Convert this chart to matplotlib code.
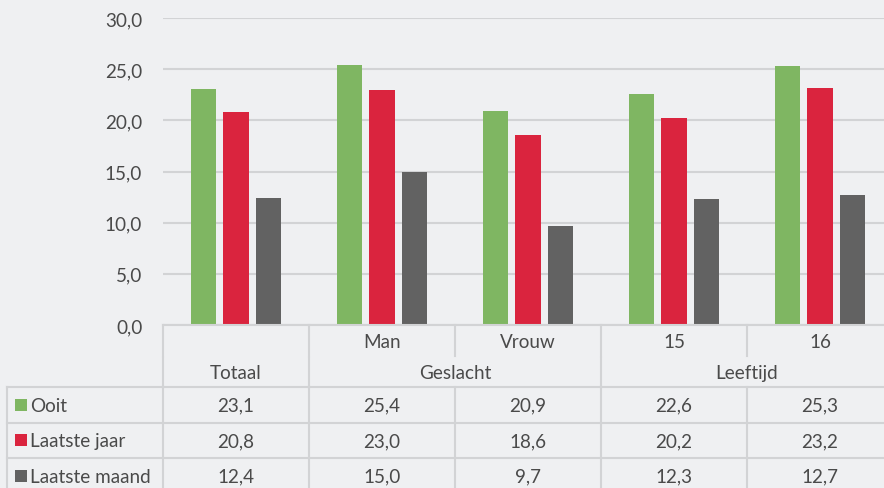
import matplotlib
matplotlib.use("Agg")
import matplotlib.pyplot as plt
import numpy as np

# ---- data ----
categories = ["Totaal", "Man", "Vrouw", "15", "16"]
sub_labels = ["", "Man", "Vrouw", "15", "16"]
group_labels = ["Totaal", "Geslacht", "Leeftijd"]
group_spans = [(0, 1), (1, 3), (3, 5)]
series_names = ["Ooit", "Laatste jaar", "Laatste maand"]
ooit = [23.1, 25.4, 20.9, 22.6, 25.3]
laatste_jaar = [20.8, 23.0, 18.6, 20.2, 23.2]
laatste_maand = [12.4, 15.0, 9.7, 12.3, 12.7]
series_values = [ooit, laatste_jaar, laatste_maand]
colors = ["#7fb662", "#da243e", "#626262"]
yticks = [0, 5, 10, 15, 20, 25, 30]

plt.rcParams['font.family'] = ['Lato', 'DejaVu Sans']
W, H = 884, 489
BG = "#eff0f2"
TXT = "#4a4a4a"
LINE = "#d2d3d5"
FS = 13.6

fig = plt.figure(figsize=(W / 100, H / 100), dpi=100, facecolor=BG)

# plot area in pixel coordinates
x0, x1 = 163, 893
y_top, y_bot = 19, 326
ax = fig.add_axes([x0 / W, (H - y_bot) / H, (x1 - x0) / W, (y_bot - y_top) / H])
ax.set_facecolor("none")
ax.set_xlim(-0.5, len(categories) - 0.5)
ax.set_ylim(0, 30)
for s in ax.spines.values():
    s.set_visible(False)
ax.set_yticks(yticks)
ax.set_yticklabels([f"{v:.1f}".replace(".", ",") for v in yticks], fontsize=FS, color=TXT)
ax.tick_params(axis="y", length=0, pad=15)
ax.set_xticks([])
ax.grid(axis="y", color=LINE, lw=1.5, zorder=0)
ax.set_axisbelow(True)

x = np.arange(len(categories))
width = 0.172
step = 0.222
for i, (vals, c) in enumerate(zip(series_values, colors)):
    ax.bar(x + (i - 1) * step, vals, width=width, color=c, zorder=3)

# ---- data table overlay ----
tab = fig.add_axes([0, 0, 1, 1])
tab.set_xlim(0, W)
tab.set_ylim(H, 0)
tab.axis("off")
tab.patch.set_alpha(0)

colw = (x1 - x0) / len(categories)
col_edges = [x0 + k * colw for k in range(len(categories) + 1)]
lw = 1.5
left_edge = 7
r0, r1, r2 = 326, 357, 388
row_h = 35.5
rows_y = [r2 + k * row_h for k in range(len(series_names) + 1)]

# horizontal lines
tab.plot([x0, W + 20], [r0, r0], color=LINE, lw=lw)
for yy in rows_y:
    tab.plot([left_edge, W + 20], [yy, yy], color=LINE, lw=lw)
# vertical lines
tab.plot([left_edge, left_edge], [r2, H + 5], color=LINE, lw=lw)
group_edges = set(col_edges[a] for a, b in group_spans)
for k, xe in enumerate(col_edges[:-1]):
    tab.plot([xe, xe], [r0, r1 - 0.5], color=LINE, lw=lw)
    if xe in group_edges:
        tab.plot([xe, xe], [r1 + 1.5, r2], color=LINE, lw=lw)
    tab.plot([xe, xe], [r2, H + 5], color=LINE, lw=lw)

# header texts
for k, lab in enumerate(sub_labels):
    if lab:
        tab.text((col_edges[k] + col_edges[k + 1]) / 2, (r0 + r1) / 2 + 1, lab,
                 ha="center", va="center", fontsize=FS, color=TXT)
for lab, (a, b) in zip(group_labels, group_spans):
    tab.text((col_edges[a] + col_edges[b]) / 2, (r1 + r2) / 2 + 1, lab,
             ha="center", va="center", fontsize=FS, color=TXT)

# data rows
for r, (name, vals, c) in enumerate(zip(series_names, series_values, colors)):
    yc = (rows_y[r] + rows_y[r + 1]) / 2
    tab.add_patch(plt.Rectangle((15, yc - 6), 12, 12, color=c, lw=0))
    tab.text(30, yc + 0.5, name, ha="left", va="center", fontsize=FS, color=TXT)
    for k, v in enumerate(vals):
        tab.text((col_edges[k] + col_edges[k + 1]) / 2, yc + 0.5, f"{v:.1f}".replace(".", ","),
                 ha="center", va="center", fontsize=FS, color=TXT)

fig.savefig("out.png", dpi=100, facecolor=BG)
